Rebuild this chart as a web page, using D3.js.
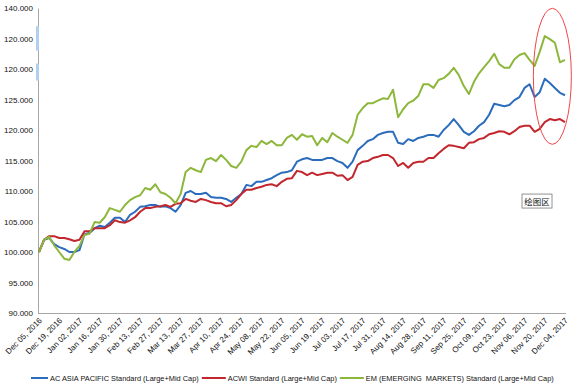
<!DOCTYPE html>
<html>
<head>
<meta charset="utf-8">
<script src="https://cdn.jsdelivr.net/npm/d3@7"></script>
<style>
  body { margin: 0; background: #fff; }
  text { font-family: "Liberation Sans", Arial, sans-serif; fill: #111; white-space: pre; }
</style>
</head>
<body>
<svg id="chart" width="580" height="387"></svg>
<script>
// half-week samples, Dec 05 2016 .. Dec 04 2017
const asiaPacific = [
  100.0, 102.0, 102.3, 101.3, 100.8, 100.5, 100.0, 100.0, 100.3, 102.9,
  103.1, 103.9, 104.3, 104.1, 104.8, 105.6, 105.6, 104.9, 106.1, 106.6,
  107.4, 107.5, 107.7, 107.7, 107.4, 107.5, 107.2, 106.6, 107.7, 109.7,
  110.0, 109.5, 109.5, 109.7, 109.0, 108.9, 108.9, 108.7, 108.2, 108.9,
  109.5, 111.0, 110.8, 111.5, 111.5, 111.8, 112.1, 112.6, 113.0, 113.1,
  113.4, 114.8, 115.2, 115.4, 115.1, 115.1, 115.1, 115.4, 115.4, 114.9,
  114.6, 113.8, 114.8, 116.7, 117.4, 118.2, 118.5, 119.2, 119.5, 119.7,
  119.7, 117.9, 117.7, 118.5, 118.2, 118.7, 118.9, 119.2, 119.2, 118.9,
  120.0, 120.8, 121.8, 120.8, 119.7, 119.2, 119.8, 120.7, 121.3, 122.5,
  124.3, 124.1, 123.9, 124.1, 124.9, 125.4, 126.9, 127.5, 125.4, 126.2,
  128.4, 127.7, 126.9, 126.1, 125.7
];
const acwi = [
  100.0, 102.0, 102.6, 102.6, 102.3, 102.3, 102.1, 101.8, 102.0, 103.4,
  103.4, 103.9, 103.9, 103.9, 104.4, 105.2, 104.9, 104.8, 105.2, 105.7,
  106.6, 107.2, 107.2, 107.4, 107.5, 107.7, 107.4, 107.9, 108.0, 108.7,
  108.4, 108.2, 108.7, 108.5, 108.2, 108.0, 108.0, 107.5, 107.7, 108.5,
  109.5, 110.2, 110.2, 110.5, 110.7, 111.0, 111.1, 110.8, 111.5, 112.0,
  112.1, 113.3, 113.1, 112.6, 113.0, 112.6, 112.8, 113.0, 113.0, 112.5,
  112.6, 111.8, 112.3, 114.3, 114.8, 114.9, 115.4, 115.6, 115.9, 115.9,
  115.4, 114.1, 114.6, 113.8, 114.6, 114.8, 114.8, 115.4, 115.4, 116.2,
  116.9, 117.5, 117.4, 117.2, 117.0, 117.9, 118.0, 118.5, 118.7, 119.3,
  119.5, 119.8, 119.7, 119.3, 119.8, 120.5, 120.7, 120.7, 119.7, 120.2,
  121.3, 121.8, 121.6, 121.8, 121.3
];
const emerging = [
  100.0, 102.0, 102.5, 101.1, 100.0, 98.9, 98.7, 100.0, 101.0, 102.8,
  103.0, 104.9, 104.8, 105.7, 107.2, 106.9, 106.6, 107.7, 108.5, 109.0,
  109.3, 110.5, 110.2, 111.1, 109.8, 109.5, 108.9, 108.0, 109.5, 113.1,
  113.8, 113.4, 113.1, 115.1, 115.4, 114.9, 115.9, 115.1, 114.1, 113.8,
  114.8, 116.7, 117.4, 117.2, 118.2, 117.7, 118.2, 117.5, 117.5, 118.7,
  119.2, 118.4, 119.3, 118.9, 119.0, 117.5, 118.7, 118.0, 119.5, 118.9,
  118.4, 117.9, 119.2, 122.5, 123.6, 124.4, 124.4, 124.8, 125.2, 125.1,
  126.6, 122.1, 123.4, 124.4, 124.8, 125.6, 127.5, 127.5, 126.9, 128.2,
  128.5, 129.2, 130.2, 129.0, 127.2, 125.9, 127.9, 129.3, 130.3, 131.3,
  132.5, 130.8, 130.2, 130.2, 131.6, 132.3, 132.6, 131.5, 130.5, 132.8,
  135.4, 134.9, 134.3, 131.1, 131.5
];

const seriesNames = [
  'AC ASIA PACIFIC Standard (Large+Mid Cap)',
  'ACWI Standard (Large+Mid Cap)',
  'EM (EMERGING  MARKETS) Standard (Large+Mid Cap)'
];
const seriesColors = ['#2b6cbc', '#c1272d', '#8db73b'];

const dateLabels = [
  'Dec 05, 2016', 'Dec 19, 2016', 'Jan 02, 2017', 'Jan 16, 2017', 'Jan 30, 2017',
  'Feb 13, 2017', 'Feb 27, 2017', 'Mar 13, 2017', 'Mar 27, 2017', 'Apr 10, 2017',
  'Apr 24, 2017', 'May 08, 2017', 'May 22, 2017', 'Jun 05, 2017', 'Jun 19, 2017',
  'Jul 03, 2017', 'Jul 17, 2017', 'Jul 31, 2017', 'Aug 14, 2017', 'Aug 28, 2017',
  'Sep 11, 2017', 'Sep 25, 2017', 'Oct 09, 2017', 'Oct 23, 2017', 'Nov 06, 2017',
  'Nov 20, 2017', 'Dec 04, 2017'
];
const yTicks = [140, 135, 130, 125, 120, 115, 110, 105, 100, 95, 90];
// labels as printed on the (retouched) source image
const yTickLabels = ['140.000', '120.000', '120.000', '125.000', '120.000',
  '115.000', '110.000', '105.000', '100.000', '95.000', '90.000'];

const svg = d3.select('#chart');
const margin = { top: 8, right: 15, bottom: 74, left: 39 };
const width = 580 - margin.left - margin.right;
const height = 387 - margin.top - margin.bottom;

const x = d3.scaleLinear().domain([0, asiaPacific.length - 1]).range([margin.left, margin.left + width]);
const y = d3.scaleLinear().domain([90, 140]).range([margin.top + height, margin.top]);

// axes
const xAxis = svg.append('g')
  .attr('transform', `translate(0,${margin.top + height})`)
  .call(d3.axisBottom(x)
    .tickValues(d3.range(0, asiaPacific.length, 4))
    .tickFormat((d, i) => dateLabels[i])
    .tickSize(0)
    .tickPadding(0));
xAxis.select('.domain').attr('stroke', '#a6a6a6').attr('d', `M${margin.left - 1},0.5H${margin.left + width + 1}`);
xAxis.selectAll('text')
  .attr('font-size', 8)
  .attr('text-anchor', 'end')
  .attr('dy', null)
  .attr('y', null)
  .attr('transform', 'translate(3,8) rotate(-45)');

const yAxis = svg.append('g')
  .attr('transform', `translate(${margin.left - 1},0)`)
  .call(d3.axisLeft(y)
    .tickValues(yTicks)
    .tickFormat((d, i) => yTickLabels[i])
    .tickSize(0)
    .tickPadding(5));
yAxis.select('.domain').attr('stroke', '#a6a6a6');
yAxis.selectAll('text').attr('font-size', 8);

// retouch marks along the value axis
svg.append('g').selectAll('rect')
  .data([[137, 134.5], [134.8, 133], [130.9, 128.1]])
  .enter().append('rect')
  .attr('x', margin.left - 3)
  .attr('width', 3)
  .attr('y', d => y(d[0]))
  .attr('height', d => y(d[1]) - y(d[0]))
  .attr('fill', '#b3cfee');

// lines
const line = d3.line()
  .x((d, i) => x(i))
  .y(d => y(d));

const allSeries = [asiaPacific, acwi, emerging];
svg.append('g').selectAll('path')
  .data(allSeries)
  .enter().append('path')
  .attr('fill', 'none')
  .attr('stroke', (d, i) => seriesColors[i])
  .attr('stroke-width', 2)
  .attr('stroke-linejoin', 'round')
  .attr('d', line);

// annotation ellipse around the last weeks
svg.append('ellipse')
  .attr('cx', x(101.5))
  .attr('cy', y(128.8))
  .attr('rx', 19)
  .attr('ry', 68)
  .attr('fill', 'none')
  .attr('stroke', '#f0464a')
  .attr('stroke-width', 1);

// "plot area" tooltip
const tip = svg.append('g').attr('transform', `translate(${x(95.5)},${y(109.5)})`);
tip.append('rect')
  .attr('width', 30).attr('height', 14)
  .attr('fill', '#fff').attr('stroke', '#777').attr('stroke-width', 0.8);
tip.append('text')
  .attr('x', 15).attr('y', 10.5)
  .attr('text-anchor', 'middle')
  .attr('font-size', 8.5)
  .style('font-family', '"Noto Sans CJK SC", sans-serif')
  .text('绘图区');

// legend: each entry follows the previous one
const legend = svg.append('g').attr('transform', 'translate(0,378)');
let cursor = 31;
seriesNames.forEach((name, i) => {
  const lineLen = i === 0 ? 17 : 24;
  legend.append('line')
    .attr('x1', cursor).attr('x2', cursor + lineLen)
    .attr('stroke', seriesColors[i])
    .attr('stroke-width', 2);
  const t = legend.append('text')
    .attr('x', cursor + lineLen + 2).attr('y', 3)
    .attr('font-size', 7.4)
    .text(name);
  cursor += lineLen + 2 + t.node().getComputedTextLength() + 3;
});
</script>
</body>
</html>
